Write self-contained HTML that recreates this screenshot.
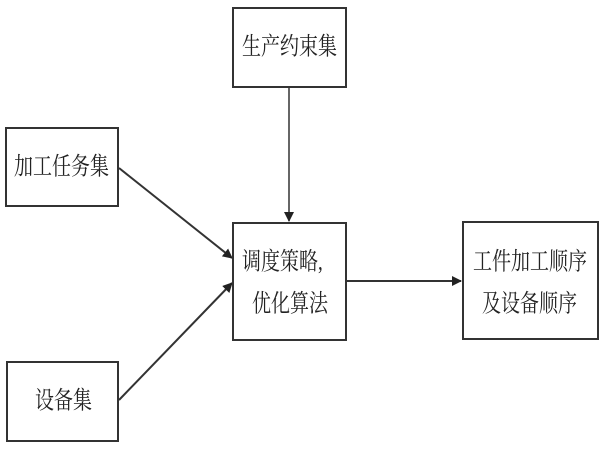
<!DOCTYPE html>
<html><head><meta charset="utf-8"><style>
html,body{margin:0;padding:0;background:#fff;}
body{width:600px;height:450px;position:relative;overflow:hidden;font-family:"Liberation Serif","Noto Serif CJK SC","Noto Sans CJK SC",serif;color:#222;}
.b{position:absolute;border:2px solid #333;box-sizing:border-box;}
.t{position:absolute;font-size:19px;line-height:19px;white-space:nowrap;transform:scaleY(1.3);transform-origin:left center;}
</style></head><body>
<svg width="600" height="450" style="position:absolute;left:0;top:0">
<defs><marker id="a" markerWidth="10" markerHeight="10" refX="9" refY="5" orient="auto" markerUnits="userSpaceOnUse"><path d="M0,0 L10,5 L0,10 Z" fill="#222"/></marker></defs>
<line x1="289" y1="87" x2="289" y2="221" stroke="#333" stroke-width="1.5" marker-end="url(#a)"/>
<line x1="119" y1="168" x2="232" y2="258" stroke="#333" stroke-width="2" marker-end="url(#a)"/>
<line x1="119" y1="400" x2="232" y2="283" stroke="#333" stroke-width="2" marker-end="url(#a)"/>
<line x1="347" y1="281" x2="461" y2="281" stroke="#333" stroke-width="2" marker-end="url(#a)"/>
</svg>
<div class="b" style="left:232px;top:7px;width:115px;height:81px"></div>
<div class="t" style="left:242px;top:38px">生产约束集</div>
<div class="b" style="left:5px;top:127px;width:114px;height:80px"></div>
<div class="t" style="left:14px;top:158px">加工任务集</div>
<div class="b" style="left:6px;top:361px;width:113px;height:81px"></div>
<div class="t" style="left:35px;top:392px">设备集</div>
<div class="b" style="left:232px;top:222px;width:115px;height:119px"></div>
<div class="t" style="left:242px;top:253px">调度策略,</div>
<div class="t" style="left:252px;top:295px">优化算法</div>
<div class="b" style="left:462px;top:221px;width:137px;height:119px"></div>
<div class="t" style="left:473px;top:253px">工件加工顺序</div>
<div class="t" style="left:482px;top:295px">及设备顺序</div>
</body></html>
